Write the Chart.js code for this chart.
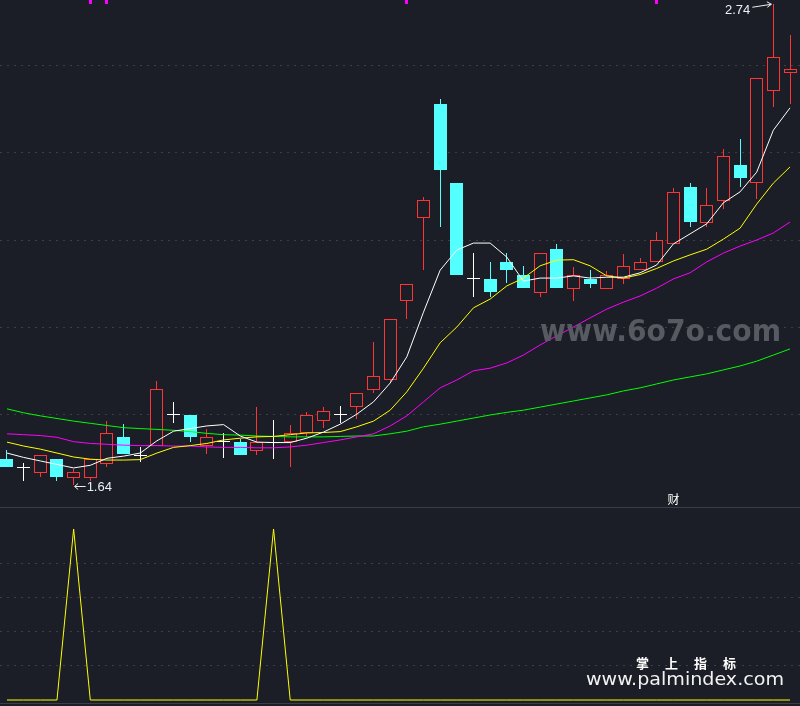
<!DOCTYPE html>
<html>
<head>
<meta charset="utf-8">
<script src="https://cdn.jsdelivr.net/npm/chart.js@4.4.1/dist/chart.umd.min.js"></script>
<style>
html,body{margin:0;padding:0;background:#1b1e26;width:800px;height:706px;overflow:hidden;}
#wrap{position:relative;width:800px;height:706px;background:#1b1e26;}
canvas{position:absolute;left:0;display:block;}
#c1{top:0;}
#c2{top:508px;}
.sep{position:absolute;left:0;width:800px;height:1px;background:#3b3e46;}
.txt{position:absolute;white-space:nowrap;transform-origin:0 0;}
.lbl{font-family:'Liberation Sans',Arial,sans-serif;font-size:13px;line-height:13px;color:#e9eef7;}
</style>
</head>
<body>
<div id="wrap">
  <canvas id="c1" width="800" height="507"></canvas>
  <div class="sep" style="top:507px"></div>
  <canvas id="c2" width="800" height="195"></canvas>
  <div class="sep" style="top:703px"></div>
  <div class="txt lbl" id="hiTxt"></div>
  <div class="txt lbl" id="loTxt"></div>
  <div class="txt" id="caiTxt" style="font-family:'Noto Sans CJK SC',sans-serif;font-size:12px;line-height:12px;color:#ffffff;"></div>
  <div class="txt" id="wm1" style="left:540px;top:316px;font-family:'DejaVu Sans',sans-serif;font-weight:bold;font-size:30px;line-height:30px;color:#575a61;">www.6o7o.com</div>
  <div class="txt" id="wm2" style="left:636px;top:656px;font-family:'Noto Sans CJK SC',sans-serif;font-weight:bold;font-size:13px;line-height:13px;letter-spacing:16px;color:#ffffff;">掌上指标</div>
  <div class="txt" id="wm3" style="left:586px;top:669px;font-family:'DejaVu Sans',sans-serif;font-size:18px;line-height:20px;color:#f2f2f2;">www.palmindex.com</div>
</div>
<script>
// ---------- data ----------
const days = Array.from({length: 48}, (_, i) => i);   // trading-day index
const opens  = [1.699,1.678,1.668,1.699,1.657,1.657,1.689,1.749,1.706,1.729,1.801,1.800,1.729,1.738,1.739,1.718,1.737,1.738,1.758,1.787,1.800,1.819,1.858,1.879,2.060,2.250,2.511,2.330,2.110,2.111,2.150,2.120,2.080,2.179,2.089,2.111,2.089,2.110,2.131,2.150,2.190,2.321,2.240,2.290,2.371,2.330,2.540,2.581];
const closes = [1.680,1.678,1.708,1.659,1.670,1.699,1.758,1.710,1.706,1.859,1.801,1.750,1.749,1.738,1.709,1.738,1.737,1.758,1.800,1.809,1.800,1.850,1.888,2.019,2.099,2.291,2.361,2.121,2.110,2.081,2.132,2.091,2.170,2.091,2.119,2.100,2.119,2.141,2.150,2.200,2.309,2.242,2.279,2.391,2.342,2.570,2.619,2.590];
const highs  = [1.720,1.690,1.708,1.699,1.676,1.699,1.786,1.779,1.726,1.878,1.830,1.800,1.767,1.759,1.745,1.819,1.789,1.777,1.806,1.819,1.821,1.850,1.967,2.019,2.099,2.298,2.522,2.330,2.170,2.150,2.171,2.141,2.170,2.191,2.138,2.131,2.129,2.168,2.160,2.219,2.318,2.330,2.318,2.408,2.430,2.570,2.740,2.669];
const lows   = [1.680,1.650,1.659,1.650,1.640,1.648,1.680,1.710,1.692,1.729,1.781,1.739,1.710,1.701,1.709,1.709,1.699,1.680,1.750,1.771,1.782,1.790,1.851,1.873,2.020,2.132,2.230,2.121,2.070,2.070,2.101,2.091,2.070,2.091,2.061,2.091,2.089,2.099,2.131,2.150,2.190,2.230,2.230,2.271,2.322,2.293,2.503,2.512];
const ma5  = [1.713,1.703,1.695,1.687,1.679,1.685,1.701,1.706,1.713,1.741,1.763,1.769,1.775,1.778,1.752,1.738,1.737,1.737,1.747,1.761,1.779,1.802,1.830,1.873,1.933,2.035,2.131,2.177,2.193,2.193,2.161,2.106,2.113,2.113,2.118,2.113,2.115,2.115,2.125,2.143,2.191,2.214,2.237,2.285,2.310,2.355,2.451,2.502];
const ma10 = [1.738,1.729,1.722,1.713,1.704,1.699,1.697,1.697,1.698,1.713,1.726,1.730,1.735,1.743,1.747,1.750,1.751,1.755,1.759,1.760,1.762,1.773,1.786,1.811,1.853,1.907,1.965,2.001,2.045,2.065,2.095,2.113,2.141,2.154,2.155,2.141,2.118,2.113,2.121,2.135,2.152,2.166,2.179,2.202,2.227,2.282,2.330,2.367];
const ma20 = [1.757,1.755,1.753,1.749,1.739,1.735,1.733,1.731,1.730,1.730,1.729,1.729,1.727,1.726,1.726,1.725,1.725,1.727,1.731,1.737,1.743,1.750,1.757,1.775,1.798,1.830,1.862,1.880,1.901,1.907,1.919,1.937,1.960,1.981,2.001,2.022,2.042,2.058,2.072,2.090,2.111,2.125,2.150,2.170,2.186,2.200,2.216,2.241];
const ma60 = [1.814,1.805,1.798,1.792,1.786,1.781,1.776,1.771,1.769,1.767,1.765,1.762,1.758,1.755,1.754,1.752,1.751,1.750,1.750,1.750,1.751,1.752,1.752,1.757,1.763,1.773,1.779,1.786,1.793,1.800,1.806,1.811,1.818,1.825,1.832,1.839,1.846,1.855,1.862,1.871,1.880,1.887,1.894,1.903,1.912,1.923,1.937,1.951];
const signal = [0,0,0,0,1,0,0,0,0,0,0,0,0,0,0,0,1,0,0,0,0,0,0,0,0,0,0,0,0,0,0,0,0,0,0,0,0,0,0,0,0,0,0,0,0,0,0,0];
const topMarkDays = [5,6,24,39];
const priceGrid = [1.8,2.0,2.2,2.4,2.6];
const signalGrid = [0.2,0.4,0.6,0.8];
const hiLabel = {day: 46, value: 2.74, text: '2.74'};
const loLabel = {day: 4, value: 1.64, text: '1.64'};
const markDay = 40, markText = '财';

// ---------- styling ----------
const BG = '#1b1e26', UP = '#ff3434', DOWN = '#54ffff', FLAT = '#ffffff';
const GRID = '#3c3f48';
const X_MIN = -0.42, X_MAX = 47.6;
const P_MIN = 1.5897, P_MAX = 2.7486;
const S_MIN = -0.0175, S_MAX = 1.1228;

const kind = days.map(i => closes[i] > opens[i] ? 'up' : (closes[i] < opens[i] ? 'down' : 'flat'));
const colorOf = k => k === 'up' ? UP : (k === 'down' ? DOWN : FLAT);

const lineDs = (data, color, order) => ({
  type: 'line', data: days.map(i => ({x: i, y: data[i]})), borderColor: color,
  borderWidth: 1, pointRadius: 0, tension: 0, fill: false, order
});

// snap candle rectangles to the pixel grid so they render crisp, like the source terminal
const pixelSnap = {
  id: 'pixelSnap',
  beforeDatasetsDraw(chart) {
    chart.getSortedVisibleDatasetMetas().forEach(meta => {
      if (meta.type !== 'bar') return;
      meta.data.forEach(el => {
        el.x = Math.floor(el.x) + 0.5;
        const top = Math.round(Math.min(el.y, el.base));
        let bot = Math.round(Math.max(el.y, el.base));
        if (bot <= top) bot = top + 1;
        el.y = top; el.base = bot;
      });
    });
  }
};

const annot = {
  id: 'annot',
  afterDatasetsDraw(chart) {
    const {ctx, scales: {x, y}} = chart;
    ctx.save();
    ctx.strokeStyle = '#f0f0f0';
    ctx.lineWidth = 1;
    const hx = x.getPixelForValue(hiLabel.day), hy = y.getPixelForValue(hiLabel.value);
    ctx.beginPath(); ctx.moveTo(hx - 21, hy + 3.5); ctx.lineTo(hx - 2, hy + 0.5); ctx.stroke();
    ctx.beginPath(); ctx.moveTo(hx - 6.5, hy - 2); ctx.lineTo(hx - 2, hy + 0.5); ctx.lineTo(hx - 6, hy + 3.5); ctx.stroke();
    const lx = x.getPixelForValue(loLabel.day), ly = y.getPixelForValue(loLabel.value);
    ctx.beginPath(); ctx.moveTo(lx + 1, ly + 1.5); ctx.lineTo(lx + 12, ly + 1.5); ctx.stroke();
    ctx.beginPath(); ctx.moveTo(lx + 4.5, ly - 1.5); ctx.lineTo(lx + 1, ly + 1.5); ctx.lineTo(lx + 4.5, ly + 4.5); ctx.stroke();
    ctx.restore();
  }
};

const gridScale = (min, max, ticks) => ({
  type: 'linear', min, max, display: true,
  afterBuildTicks: s => { s.ticks = ticks.map(v => ({value: v})); },
  ticks: {display: false},
  grid: {color: GRID, lineWidth: 1, drawTicks: false},
  border: {display: false, dash: [2, 5]}
});

const chart1 = new Chart(document.getElementById('c1'), {
  type: 'bar',
  data: {
    datasets: [
      lineDs(ma5, '#ffffff', 0),
      lineDs(ma10, '#ffff00', 1),
      lineDs(ma20, '#ff00ff', 2),
      lineDs(ma60, '#00ff00', 3),
      {
        type: 'bar', order: 4, grouped: false, barThickness: 13, minBarLength: 1,
        borderSkipped: false, inflateAmount: 0,
        data: days.map(i => ({x: i, y: [opens[i], closes[i]]})),
        backgroundColor: days.map(i => kind[i] === 'up' ? BG : colorOf(kind[i])),
        borderColor: days.map(i => colorOf(kind[i])),
        borderWidth: days.map(i => kind[i] === 'flat' ? 0 : 1)
      },
      {
        type: 'bar', order: 5, grouped: false, barThickness: 1,
        borderSkipped: false, inflateAmount: 0, borderWidth: 0,
        data: days.map(i => ({x: i, y: [lows[i], highs[i]]})),
        backgroundColor: days.map(i => colorOf(kind[i]))
      },
      {
        type: 'bar', order: 6, grouped: false, barThickness: 3,
        borderSkipped: false, inflateAmount: 0, borderWidth: 0,
        data: topMarkDays.map(d => ({x: d, y: [P_MAX - (P_MAX - P_MIN) * 0.008, P_MAX]})),
        backgroundColor: '#ff00ff'
      }
    ]
  },
  options: {
    responsive: false, animation: false, devicePixelRatio: 1,
    layout: {padding: 0},
    plugins: {legend: {display: false}, tooltip: {enabled: false}},
    scales: {
      x: {type: 'linear', min: X_MIN, max: X_MAX, display: false, offset: false},
      y: gridScale(P_MIN, P_MAX, priceGrid)
    }
  },
  plugins: [pixelSnap, annot]
});

const chart2 = new Chart(document.getElementById('c2'), {
  type: 'line',
  data: {
    datasets: [{
      data: days.map(i => ({x: i, y: signal[i]})), borderColor: '#ffff00',
      borderWidth: 1, pointRadius: 0, tension: 0, fill: false
    }]
  },
  options: {
    responsive: false, animation: false, devicePixelRatio: 1,
    layout: {padding: 0},
    plugins: {legend: {display: false}, tooltip: {enabled: false}},
    scales: {
      x: {type: 'linear', min: X_MIN, max: X_MAX, display: false, offset: false},
      y: gridScale(S_MIN, S_MAX, signalGrid)
    }
  }
});

// ---------- text labels placed from the chart's scales ----------
(function placeLabels() {
  const xs = chart1.scales.x, ys = chart1.scales.y;
  const hx = xs.getPixelForValue(hiLabel.day), hy = ys.getPixelForValue(hiLabel.value);
  const hi = document.getElementById('hiTxt');
  hi.textContent = hiLabel.text;
  hi.style.left = (hx - 23 - hi.getBoundingClientRect().width) + 'px';
  hi.style.top = (hy + 5.5 - 6.5) + 'px';
  const lx = xs.getPixelForValue(loLabel.day), ly = ys.getPixelForValue(loLabel.value);
  const lo = document.getElementById('loTxt');
  lo.textContent = loLabel.text;
  lo.style.left = (lx + 13) + 'px';
  lo.style.top = (ly + 2 - 6.5) + 'px';
  const cai = document.getElementById('caiTxt');
  cai.textContent = markText;
  cai.style.left = (xs.getPixelForValue(markDay) - cai.getBoundingClientRect().width / 2) + 'px';
  cai.style.top = (chart1.chartArea.bottom - 8.5 - 6) + 'px';
  const fit = (id, w) => { const el = document.getElementById(id); el.style.transform = 'scaleX(' + (w / el.getBoundingClientRect().width) + ')'; };
  fit('wm1', 241);
  fit('wm3', 198);
})();
</script>
</body>
</html>
